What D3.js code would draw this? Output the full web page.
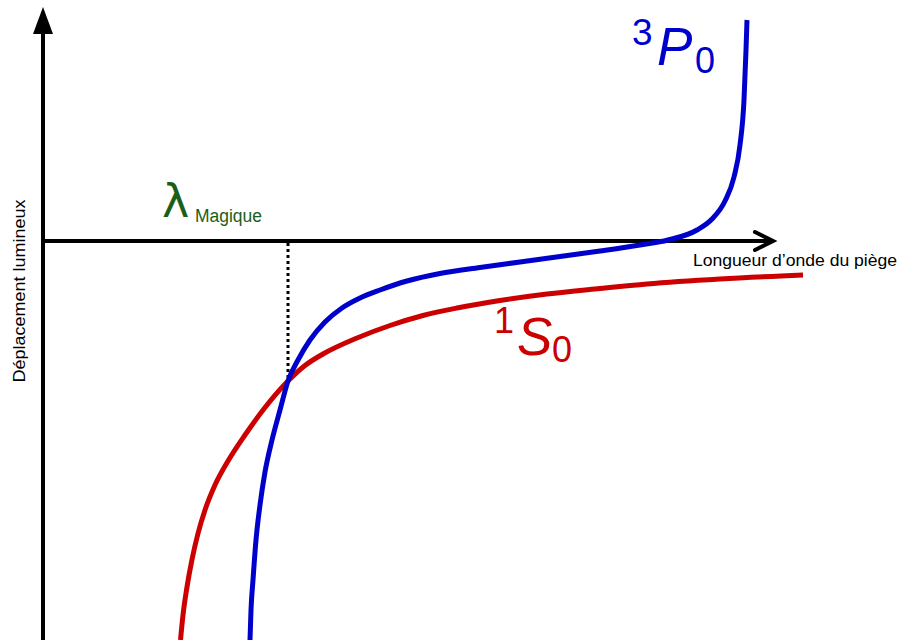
<!DOCTYPE html>
<html>
<head>
<meta charset="utf-8">
<script src="https://cdn.jsdelivr.net/npm/d3@7"></script>
<style>
  body { margin: 0; background: #fff; }
  svg { display: block; }
</style>
</head>
<body>
<svg id="chart"></svg>
<script>
// trap wavelength and light shift (arbitrary units)
const lambdaP0 = [2.07, 2.08, 2.10, 2.13, 2.17, 2.22, 2.29, 2.37, 2.45, 2.55, 2.67, 2.82, 2.99, 3.17, 3.37, 3.64, 3.97, 4.37, 4.77, 5.17, 5.57, 5.97, 6.25, 6.54, 6.69, 6.82, 6.91, 6.97, 7.01, 7.03, 7.04];
const shiftP0  = [-3.99, -3.69, -3.39, -2.99, -2.64, -2.31, -1.99, -1.69, -1.40, -1.19, -0.99, -0.81, -0.67, -0.57, -0.49, -0.40, -0.325, -0.265, -0.21, -0.155, -0.10, -0.04, 0.01, 0.11, 0.22, 0.40, 0.64, 0.96, 1.41, 1.91, 2.21];

const lambdaS0 = [1.375, 1.40, 1.44, 1.49, 1.55, 1.62, 1.72, 1.85, 2.02, 2.22, 2.45, 2.62, 2.80, 3.14, 3.47, 3.80, 4.14, 4.57, 5.04, 5.57, 6.04, 6.77, 7.60];
const shiftS0  = [-3.99, -3.74, -3.46, -3.185, -2.925, -2.69, -2.44, -2.20, -1.94, -1.665, -1.40, -1.245, -1.13, -0.97, -0.845, -0.745, -0.67, -0.595, -0.53, -0.475, -0.43, -0.38, -0.34];

const magicLambda = 2.45;
const magicShift = -1.40;

const width = 898, height = 640;

const x = d3.scaleLinear().domain([0, 7.3]).range([43, 773]);
const y = d3.scaleLinear().domain([-4, 2.4]).range([641, 1]);

const svg = d3.select("#chart")
    .attr("width", width)
    .attr("height", height)
    .attr("viewBox", [0, 0, width, height]);

// axes with arrows
const x0 = x(0), y0 = y(0), xEnd = x(7.3);
svg.append("line")
    .attr("x1", x0).attr("x2", x0)
    .attr("y1", height).attr("y2", 30)
    .attr("stroke", "#000").attr("stroke-width", 4);
svg.append("path")
    .attr("d", `M${x0},7 L${x0 + 10},34 L${x0 - 10},34 Z`)
    .attr("fill", "#000");

svg.append("line")
    .attr("x1", x0).attr("x2", xEnd - 3)
    .attr("y1", y0).attr("y2", y0)
    .attr("stroke", "#000").attr("stroke-width", 4);
svg.append("path")
    .attr("d", `M${xEnd - 18},${y0 - 9} L${xEnd},${y0} L${xEnd - 18},${y0 + 9}`)
    .attr("fill", "none")
    .attr("stroke", "#000").attr("stroke-width", 4)
    .attr("stroke-linecap", "round");

// magic wavelength marker
svg.append("line")
    .attr("x1", x(magicLambda)).attr("x2", x(magicLambda))
    .attr("y1", y0 + 2).attr("y2", y(magicShift))
    .attr("stroke", "#000").attr("stroke-width", 3)
    .attr("stroke-dasharray", "3,3");

// curves
const line = d3.line()
    .x(d => x(d[0]))
    .y(d => y(d[1]))
    .curve(d3.curveMonotoneX);

svg.append("path")
    .datum(d3.zip(lambdaS0, shiftS0))
    .attr("d", line)
    .attr("fill", "none")
    .attr("stroke", "#cc0000")
    .attr("stroke-width", 5);

svg.append("path")
    .datum(d3.zip(lambdaP0, shiftP0))
    .attr("d", line)
    .attr("fill", "none")
    .attr("stroke", "#0000cc")
    .attr("stroke-width", 5);

// labels
svg.append("text")
    .attr("transform", "translate(25,291) rotate(-90)")
    .attr("text-anchor", "middle")
    .attr("font-family", "Liberation Sans, sans-serif")
    .attr("font-size", 16)
    .attr("textLength", 183)
    .attr("lengthAdjust", "spacingAndGlyphs")
    .text("Déplacement lumineux");

svg.append("text")
    .attr("x", 693).attr("y", 266)
    .attr("font-family", "Liberation Sans, sans-serif")
    .attr("font-size", 16)
    .attr("textLength", 204)
    .attr("lengthAdjust", "spacingAndGlyphs")
    .text("Longueur d’onde du piège");

const lam = svg.append("text")
    .attr("fill", "#1b5e17")
    .attr("font-family", "DejaVu Sans, sans-serif");
lam.append("tspan").attr("x", 162).attr("y", 217).attr("font-size", 46).text("λ");
lam.append("tspan").attr("x", 195).attr("y", 222).attr("font-size", 18)
    .attr("font-family", "Liberation Sans, sans-serif")
    .attr("textLength", 67).attr("lengthAdjust", "spacingAndGlyphs")
    .text("Magique");

const p0 = svg.append("text")
    .attr("fill", "#0000cc")
    .attr("font-family", "Liberation Sans, Arial, sans-serif");
p0.append("tspan").attr("x", 632).attr("y", 45).attr("font-size", 37).text("3");
p0.append("tspan").attr("x", 657).attr("y", 65).attr("font-size", 53).attr("font-style", "italic").text("P");
p0.append("tspan").attr("x", 695).attr("y", 73).attr("font-size", 36).text("0");

const s0 = svg.append("text")
    .attr("fill", "#cc0000")
    .attr("font-family", "Liberation Sans, Arial, sans-serif");
s0.append("tspan").attr("x", 494).attr("y", 333).attr("font-size", 36).text("1");
s0.append("tspan").attr("x", 517).attr("y", 355).attr("font-size", 53).attr("font-style", "italic").text("S");
s0.append("tspan").attr("x", 552).attr("y", 362).attr("font-size", 36).text("0");
</script>
</body>
</html>
